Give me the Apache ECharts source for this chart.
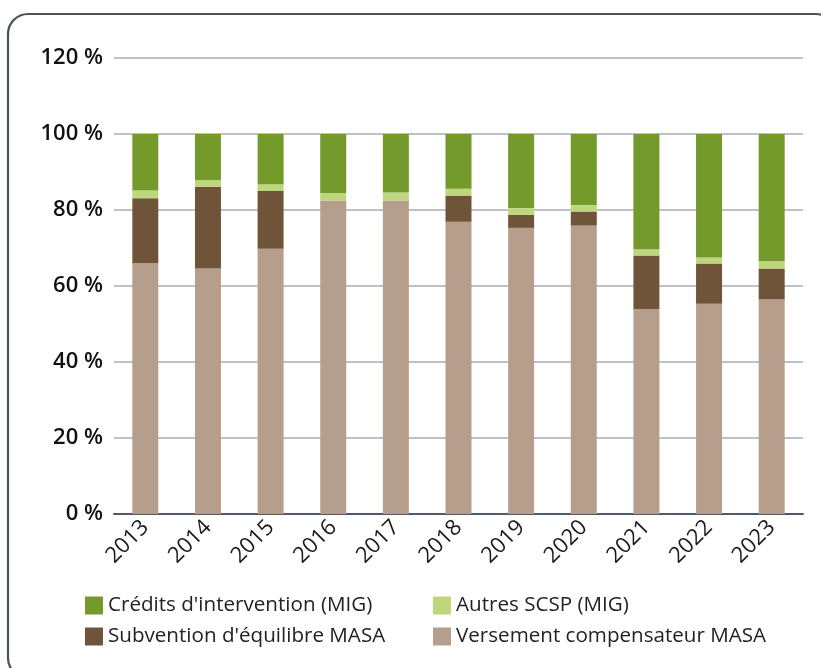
<!DOCTYPE html>
<html>
<head>
<meta charset="utf-8">
<script src="https://cdn.jsdelivr.net/npm/echarts@6/dist/echarts.min.js"></script>
<style>
  html, body { margin: 0; padding: 0; background: #fff; }
  #chart { width: 821px; height: 668px; }
</style>
</head>
<body>
<div id="chart"></div>
<script>
// Years on the category axis
const years = ['2013', '2014', '2015', '2016', '2017', '2018', '2019', '2020', '2021', '2022', '2023'];

// Shares of total funding, in percent
const versementCompensateur = [66.0, 64.6, 69.8, 82.5, 82.5, 76.9, 75.3, 75.9, 53.9, 55.3, 56.5];
const subventionEquilibre   = [17.1, 21.5, 15.2, 0, 0, 6.9, 3.4, 3.7, 14.1, 10.6, 8.1];
const autresScsp            = [2.0, 1.7, 1.8, 2.0, 2.1, 1.8, 1.8, 1.7, 1.7, 1.6, 1.9];
const creditsIntervention   = [14.9, 12.2, 13.2, 15.5, 15.4, 14.4, 19.5, 18.7, 30.3, 32.5, 33.5];

// Value axis ticks
const yTicks = [0, 20, 40, 60, 80, 100, 120];

const FONT = '"Open Sans", "Noto Sans", sans-serif';

const chart = echarts.init(document.getElementById('chart'), null, { renderer: 'canvas' });

function barSeries(name, data, color) {
  return {
    name: name,
    type: 'bar',
    stack: 'total',
    barWidth: 26,
    data: data,
    itemStyle: { color: color },
    emphasis: { disabled: true }
  };
}

const legendText = { fontFamily: FONT, fontSize: 20.6, color: '#222' };

chart.setOption({
  animation: false,
  backgroundColor: '#ffffff',
  graphic: [{
    type: 'rect',
    silent: true,
    shape: { x: 8, y: 14, width: 828, height: 664, r: 20 },
    style: { fill: 'none', stroke: '#4a5262', lineWidth: 2.2 }
  }],
  grid: { left: 114, right: 18, top: 58, bottom: 154, containLabel: false },
  legend: [
    {
      orient: 'vertical',
      left: 80, top: 590,
      itemWidth: 18, itemHeight: 18, itemGap: 10,
      icon: 'rect',
      textStyle: legendText,
      data: ['Crédits d\'intervention (MIG)', 'Subvention d\'équilibre MASA']
    },
    {
      orient: 'vertical',
      left: 428, top: 590,
      itemWidth: 18, itemHeight: 18, itemGap: 10,
      icon: 'rect',
      textStyle: legendText,
      data: ['Autres SCSP (MIG)', 'Versement compensateur MASA']
    }
  ],
  xAxis: {
    type: 'category',
    data: years,
    axisLine: { show: true, lineStyle: { color: '#505a6a', width: 2 } },
    axisTick: { show: false },
    axisLabel: {
      rotate: 45,
      margin: 10,
      fontFamily: FONT,
      fontSize: 22,
      color: '#1a1a1a'
    }
  },
  yAxis: {
    type: 'value',
    min: yTicks[0],
    max: yTicks[yTicks.length - 1],
    interval: 20,
    axisLine: { show: false },
    axisTick: { show: false },
    splitLine: { lineStyle: { color: '#a8adbb', width: 1.5 } },
    axisLabel: {
      margin: 11,
      fontFamily: FONT,
      fontSize: 22,
      fontWeight: 600,
      color: '#111',
      formatter: function (v) { return v + ' %'; }
    }
  },
  series: [
    barSeries('Versement compensateur MASA', versementCompensateur, '#b69e8c'),
    barSeries('Subvention d\'équilibre MASA', subventionEquilibre, '#70543a'),
    barSeries('Autres SCSP (MIG)', autresScsp, '#bed77d'),
    barSeries('Crédits d\'intervention (MIG)', creditsIntervention, '#759a2c')
  ]
});
</script>
</body>
</html>
